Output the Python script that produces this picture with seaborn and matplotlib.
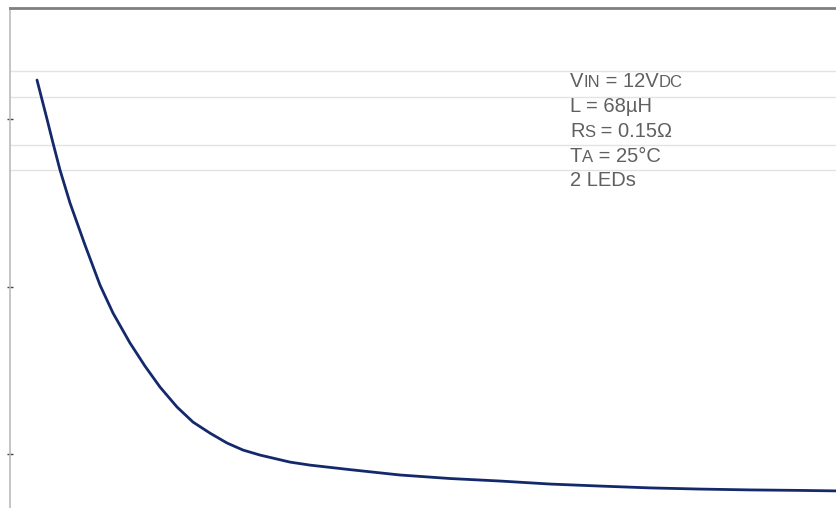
import numpy as np
import pandas as pd
import matplotlib
matplotlib.use('Agg')
import matplotlib.pyplot as plt
import seaborn as sns
from matplotlib.offsetbox import TextArea, HPacker, VPacker, AnnotationBbox

# Curve (arbitrary units, no axis labels visible)
x_vals = [0.27, 0.37, 0.43, 0.50, 0.60, 0.75, 0.90, 1.03, 1.20, 1.35, 1.50,
          1.67, 1.83, 2.00, 2.17, 2.33, 2.50, 2.80, 3.00, 3.40, 3.90, 4.40,
          4.90, 5.40, 5.90, 6.40, 6.90, 7.40, 7.90, 8.27]
y_vals = [3.233, 3.000, 2.857, 2.696, 2.499, 2.248, 2.009, 1.842, 1.663, 1.525, 1.400,
          1.281, 1.191, 1.125, 1.066, 1.024, 0.994, 0.952, 0.934, 0.907, 0.875, 0.854,
          0.839, 0.821, 0.809, 0.798, 0.791, 0.786, 0.783, 0.780]
y_ticks = [1, 2, 3]
grid_levels = [3.287, 3.131, 2.845, 2.696]

# conditions box: list of (text, small) pieces per line
conditions = [
    [('V', False), ('IN', True), (' = 12V', False), ('DC', True)],
    [('L = 68µH', False)],
    [('R', False), ('S', True), (' = 0.15Ω', False)],
    [('T', False), ('A', True), (' = 25°C', False)],
    [('2 LEDs', False)],
]

df = pd.DataFrame({'x': x_vals, 'y': y_vals})

sns.set_style('white')
plt.rcParams['font.family'] = ['Liberation Sans', 'DejaVu Sans']

fig = plt.figure(figsize=(8.37, 5.08), dpi=100)
ax = fig.add_axes([10 / 837, 0, 827 / 837, 500 / 508])

for g in grid_levels:
    ax.axhline(g, color='#e3e3e3', lw=1, zorder=0)

sns.lineplot(data=df, x='x', y='y', ax=ax, color='#13296b', lw=2.0)

ax.set_xlim(0, 8.27)
ax.set_ylim(0.678, 3.663)
ax.set_xticks([])
ax.set_yticks(y_ticks)
ax.set_yticklabels([])
ax.tick_params(axis='y', direction='inout', length=5, width=1, color='#444444', left=True)
ax.set_xlabel('')
ax.set_ylabel('')

ax.spines['right'].set_visible(False)
ax.spines['bottom'].set_visible(False)
ax.spines['top'].set_color('#808080')
ax.spines['top'].set_linewidth(2)
ax.spines['left'].set_color('#bbbbbb')
ax.spines['left'].set_linewidth(1.2)

big = dict(fontsize=14.5, color='#606060')
small = dict(fontsize=12, color='#606060')
rows = []
for line in conditions:
    parts = [TextArea(t, textprops=small if s else big) for t, s in line]
    rows.append(HPacker(children=parts, align='baseline', pad=0, sep=0))
box = VPacker(children=rows, align='left', pad=0, sep=4.2)
ab = AnnotationBbox(box, ((570 - 10) / 827, (508 - 72) / 500), xycoords='axes fraction',
                    box_alignment=(0, 1), frameon=False, pad=0)
ax.add_artist(ab)

plt.savefig('out.png', dpi=100)
